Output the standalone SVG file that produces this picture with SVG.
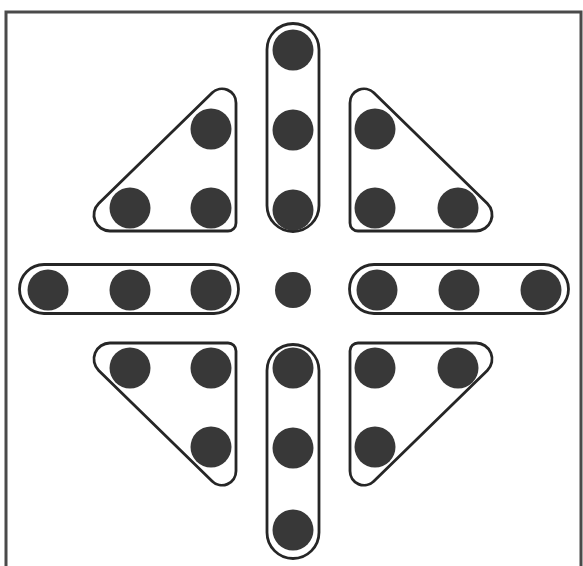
<svg xmlns="http://www.w3.org/2000/svg" width="583" height="566" viewBox="0 0 583 566">
<defs>
<style>
.o{fill:none;stroke:#262626;stroke-width:2.8}
.d{fill:#383838}
</style>
<path id="tri" d="M212.2,92.8 A14,14 0 0 1 236,102.9 L236,223 A8,8 0 0 1 228,231 L109.9,231 A16,16 0 0 1 98.7,203.6 Z"/>
</defs>
<rect width="583" height="566" fill="#fff"/>
<rect x="6" y="12" width="575" height="570" fill="none" stroke="#4a4a4a" stroke-width="3"/>
<g id="pill-top">
<rect class="o" x="267" y="23.5" width="52" height="208" rx="26"/>
<circle class="d" cx="293" cy="50" r="20.5"/>
<circle class="d" cx="293" cy="130" r="20.5"/>
<circle class="d" cx="293" cy="210" r="20.5"/>
</g>
<g id="tri-top-left">
<use href="#tri" class="o"/>
<circle class="d" cx="211" cy="129" r="20.5"/>
<circle class="d" cx="130" cy="208" r="20.5"/>
<circle class="d" cx="211" cy="208" r="20.5"/>
</g>
<g id="tri-top-right">
<use href="#tri" class="o" transform="translate(586,0) scale(-1,1)"/>
<circle class="d" cx="375" cy="129" r="20.5"/>
<circle class="d" cx="375" cy="208" r="20.5"/>
<circle class="d" cx="458" cy="208" r="20.5"/>
</g>
<g id="pill-left">
<rect class="o" x="19.5" y="264.5" width="219" height="49" rx="24.5"/>
<circle class="d" cx="48" cy="290" r="20.5"/>
<circle class="d" cx="130" cy="290" r="20.5"/>
<circle class="d" cx="211" cy="290" r="20.5"/>
</g>
<g id="center">
<circle class="d" cx="293" cy="290" r="18"/>
</g>
<g id="pill-right">
<rect class="o" x="349.5" y="264.5" width="219" height="49" rx="24.5"/>
<circle class="d" cx="377" cy="290" r="20.5"/>
<circle class="d" cx="459" cy="290" r="20.5"/>
<circle class="d" cx="541" cy="290" r="20.5"/>
</g>
<g id="tri-bottom-left">
<use href="#tri" class="o" transform="translate(0,574) scale(1,-1)"/>
<circle class="d" cx="130" cy="368" r="20.5"/>
<circle class="d" cx="211" cy="368" r="20.5"/>
<circle class="d" cx="211" cy="447" r="20.5"/>
</g>
<g id="tri-bottom-right">
<use href="#tri" class="o" transform="translate(586,574) scale(-1,-1)"/>
<circle class="d" cx="375" cy="368" r="20.5"/>
<circle class="d" cx="458" cy="368" r="20.5"/>
<circle class="d" cx="375" cy="447" r="20.5"/>
</g>
<g id="pill-bottom">
<rect class="o" x="267" y="344.5" width="52" height="214" rx="26"/>
<circle class="d" cx="293" cy="368" r="20.5"/>
<circle class="d" cx="293" cy="448" r="20.5"/>
<circle class="d" cx="293" cy="530" r="20.5"/>
</g>
</svg>
